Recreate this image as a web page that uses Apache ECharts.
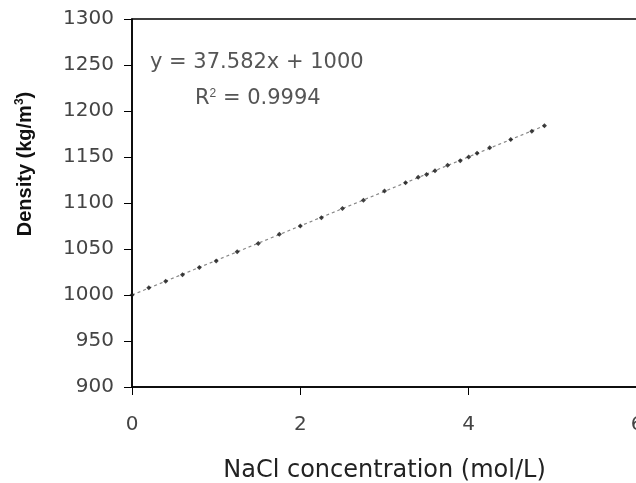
<!DOCTYPE html>
<html>
<head>
<meta charset="utf-8">
<title>NaCl density</title>
<script src="https://cdn.jsdelivr.net/npm/echarts@6/dist/echarts.min.js"></script>
<style>
  html, body { margin: 0; padding: 0; background: #fff; }
  #chart { width: 636px; height: 483px; }
</style>
</head>
<body>
<div id="chart"></div>
<script>
// NaCl concentration (mol/L) and measured density (kg/m3)
var conc    = [0, 0.2, 0.4, 0.6, 0.8, 1.0, 1.25, 1.5, 1.75, 2.0, 2.25, 2.5, 2.75, 3.0, 3.25, 3.4, 3.5, 3.6, 3.75, 3.9, 4.0, 4.1, 4.25, 4.5, 4.75, 4.9];
var density = [1000, 1008, 1015, 1022, 1030, 1037, 1047, 1056, 1066, 1075, 1084, 1094, 1103, 1113, 1122, 1128, 1131, 1135, 1141, 1146, 1150, 1154, 1160, 1169, 1178, 1184];
// linear trendline ends
var trendX = [0, 4.9];
var trendY = [1000, 1184];
var yTicks = [900, 950, 1000, 1050, 1100, 1150, 1200, 1250, 1300];
var xTicks = [0, 2, 4, 6];
var eqText = 'y = 37.582x + 1000';
var r2Text = 'R{sup|2} = 0.9994';

var pts = conc.map(function (x, i) { return [x, density[i]]; });
var trend = trendX.map(function (x, i) { return [x, trendY[i]]; });

var chart = echarts.init(document.getElementById('chart'));
chart.setOption({
    animation: false,
    backgroundColor: '#fff',
    textStyle: { fontFamily: 'DejaVu Sans' },
    grid: { left: 132, top: 19, width: 505, height: 368, outerBoundsMode: 'none', containLabel: false,
            show: true, borderColor: '#000', borderWidth: 1.5, backgroundColor: 'transparent' },
    xAxis: {
        type: 'value', min: xTicks[0], max: xTicks[xTicks.length - 1], interval: 2,
        axisLine: { lineStyle: { color: '#000', width: 1.5 } },
        axisTick: { show: true, length: 8, lineStyle: { color: '#000' } },
        axisLabel: { color: '#444', fontSize: 20, margin: 28, formatter: function (v) { return String(v); } },
        splitLine: { show: false },
        name: 'NaCl concentration (mol/L)', nameLocation: 'middle', nameGap: 72,
        nameTextStyle: { color: '#222', fontSize: 24, fontFamily: 'DejaVu Sans' }
    },
    yAxis: {
        type: 'value', min: yTicks[0], max: yTicks[yTicks.length - 1], interval: 50,
        axisLine: { lineStyle: { color: '#000', width: 1.5 } },
        axisTick: { show: true, length: 8, inside: false, lineStyle: { color: '#000' } },
        axisLabel: { color: '#444', fontSize: 20, margin: 18, formatter: function (v) { return String(v); } },
        splitLine: { show: false }
    },
    graphic: [
        { type: 'text', left: 150, top: 52, style: { text: eqText, fill: '#555', font: '21px "DejaVu Sans"' } },
        { type: 'text', left: 195, top: 88, style: { text: r2Text, fill: '#555', font: '21px "DejaVu Sans"',
            rich: { sup: { fontSize: 12, padding: [0, 0, 10, 0], fill: '#555' } } } },
        { type: 'text', x: 25, y: 164, rotation: Math.PI / 2,
          style: { text: 'Density (kg/m{sup|3})', fill: '#111', font: 'bold 20px "Liberation Sans"', align: 'center', verticalAlign: 'middle',
            rich: { sup: { fontSize: 12, fontWeight: 'bold', padding: [0, 0, 10, 0], fill: '#111' } } } }
    ],
    series: [
        {
            type: 'line', data: trend, showSymbol: false, symbol: 'none',
            lineStyle: { color: '#888', width: 1.2, type: [3, 3] }, z: 2
        },
        {
            type: 'scatter', data: pts, symbol: 'diamond', symbolSize: 5,
            itemStyle: { color: '#111' }, z: 3
        }
    ]
});
</script>
</body>
</html>
